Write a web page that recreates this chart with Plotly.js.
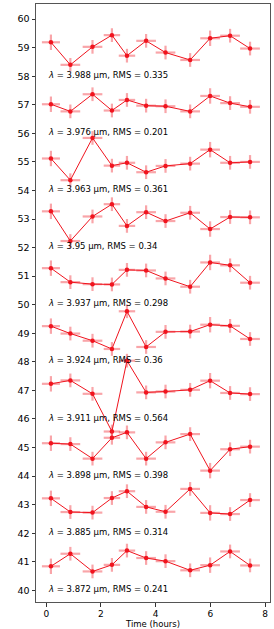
<!DOCTYPE html>
<html>
<head>
<meta charset="utf-8">
<script src="https://cdn.plot.ly/plotly-3.0.1.min.js"></script>
<style>html,body{margin:0;padding:0;background:#fff}#chart{width:274px;height:629px}</style>
</head>
<body>
<div id="chart"></div>
<script>
const times = [0.17, 0.88, 1.69, 2.40, 2.95, 3.65, 4.36, 5.26, 5.99, 6.72, 7.45];
const timeErr = [0.33, 0.36, 0.36, 0.3, 0.3, 0.36, 0.36, 0.36, 0.36, 0.36, 0.36];
const wavelengths = ["3.988", "3.976", "3.963", "3.95", "3.937", "3.924", "3.911", "3.898", "3.885", "3.872"];
const rmsValues = ["0.335", "0.201", "0.361", "0.34", "0.298", "0.36", "0.564", "0.398", "0.314", "0.241"];
const labelY = [58, 56, 54, 52, 50, 48, 46, 44, 42, 40];
const s3988 = [59.19, 58.40, 59.03, 59.44, 58.72, 59.24, 58.83, 58.57, 59.33, 59.42, 58.97];
const s3976 = [57.02, 56.77, 57.37, 56.80, 57.17, 56.97, 56.95, 56.77, 57.31, 57.06, 56.93];
const s3963 = [55.12, 54.36, 55.84, 54.87, 54.97, 54.64, 54.86, 54.94, 55.43, 54.97, 55.00];
const s3950 = [53.27, 52.23, 53.09, 53.52, 52.76, 53.24, 52.93, 53.22, 52.65, 53.07, 53.06];
const s3937 = [51.28, 50.79, 50.72, 50.71, 51.22, 51.20, 50.92, 50.63, 51.48, 51.38, 50.77];
const s3924 = [49.25, 48.99, 48.74, 48.45, 49.77, 48.52, 49.05, 49.06, 49.30, 49.26, 48.80];
const s3911 = [47.23, 47.35, 46.88, 45.56, 48.04, 46.93, 46.96, 47.02, 47.34, 46.91, 46.87];
const s3898 = [45.15, 45.12, 44.61, 45.34, 45.53, 44.61, 45.18, 45.47, 44.19, 44.94, 45.03];
const s3885 = [43.22, 42.74, 42.72, 43.23, 43.47, 42.92, 42.75, 43.55, 42.71, 42.67, 43.16];
const s3872 = [40.84, 41.28, 40.66, 40.89, 41.39, 41.13, 41.02, 40.70, 40.88, 41.36, 40.87];
const fluxErr = [0.27, 0.24, 0.24, 0.24, 0.24, 0.24, 0.24, 0.24, 0.27, 0.24, 0.24];

const series = [s3988, s3976, s3963, s3950, s3937, s3924, s3911, s3898, s3885, s3872];

const traces = series.map((ys, i) => ({
  x: times, y: ys, type: 'scatter', mode: 'lines+markers',
  line: {color: 'rgb(240,20,30)', width: 1},
  marker: {color: 'rgb(240,20,30)', size: 4.5},
  error_x: {type: 'data', array: timeErr, color: 'rgba(240,40,50,0.42)', thickness: 2.2, width: 0},
  error_y: {type: 'data', array: fluxErr, color: 'rgba(240,40,50,0.42)', thickness: 2.2, width: 0},
  showlegend: false, hoverinfo: 'skip'
}));

const annotations = wavelengths.map((w, i) => ({
  x: 0, y: labelY[i] + 0.05, xref: 'x', yref: 'y', xanchor: 'left', yanchor: 'middle',
  showarrow: false, text: '<i>λ</i> = ' + w + ' µm, RMS = ' + rmsValues[i],
  font: {family: 'DejaVu Sans', size: 8.5, color: '#000'}
}));

const layout = {
  width: 274, height: 629,
  margin: {l: 36, r: 4, t: 4, b: 27},
  paper_bgcolor: '#fff', plot_bgcolor: '#fff',
  font: {family: 'DejaVu Sans', size: 9, color: '#000'},
  xaxis: {
    range: [-0.376, 8.18], tickvals: [0, 2, 4, 6, 8], ticks: 'outside', ticklen: 3.5,
    tickcolor: '#333', showgrid: false, zeroline: false, showline: true, mirror: true,
    linecolor: '#555', linewidth: 1, tickfont: {size: 9},
    title: {text: 'Time (hours)', font: {size: 8.5}, standoff: 2}
  },
  yaxis: {
    range: [39.59, 60.53], dtick: 1, tick0: 40, ticks: 'outside', ticklen: 3.5,
    tickcolor: '#333', showgrid: false, zeroline: false, showline: true, mirror: true,
    linecolor: '#555', linewidth: 1, tickfont: {size: 9.5}
  },
  annotations: annotations
};

Plotly.newPlot('chart', traces, layout, {displayModeBar: false, staticPlot: true});
</script>
</body>
</html>
